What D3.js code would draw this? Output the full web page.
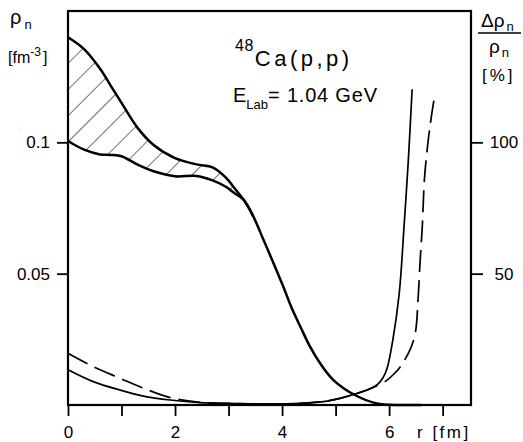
<!DOCTYPE html>
<html><head><meta charset="utf-8">
<script src="https://cdn.jsdelivr.net/npm/d3@7"></script>
<style>
body{margin:0;background:#fff}
svg{display:block}
text{font-family:"Liberation Sans",Arial,sans-serif;fill:#000}
</style>
</head><body>
<svg id="c" width="523" height="442"></svg>
<script>
// ---- data ----
const rGrid  = [0, 0.3, 0.6, 0.8, 1.0, 1.3, 1.6, 2.0, 2.4, 2.7, 2.95, 3.1, 3.28, 3.46, 3.65, 3.84, 4.02, 4.18, 4.34, 4.52, 4.71, 4.96, 5.36, 5.77, 6.2, 6.6];
const rhoMax = [0.140, 0.1355, 0.128, 0.1215, 0.115, 0.1055, 0.099, 0.094, 0.0916, 0.0905, 0.0866, 0.0828, 0.0782, 0.0719, 0.063, 0.054, 0.0452, 0.0369, 0.0299, 0.0223, 0.0159, 0.0095, 0.0038, 0.0006, 0, 0];
const rhoMin = [0.1005, 0.0972, 0.0954, 0.0952, 0.0947, 0.0915, 0.089, 0.0871, 0.0872, 0.0855, 0.0831, 0.0808, 0.0782, 0.0719, 0.063, 0.054, 0.0452, 0.0369, 0.0299, 0.0223, 0.0159, 0.0095, 0.0038, 0.0006, 0, 0];

const errSolidR = [0, 0.47, 0.97, 1.41, 1.91, 2.47, 2.97, 3.59, 4.34, 4.84, 5.08, 5.38, 5.6, 5.77, 5.88, 5.96, 6.07, 6.19, 6.28, 6.36, 6.43];
const errSolidP = [13.4, 8.9, 5.7, 3.4, 1.9, 0.9, 0.6, 0.4, 0.6, 1.5, 2.5, 4.3, 5.8, 7.6, 10.2, 13.8, 24.8, 42.7, 68.3, 93.5, 120.2];
const errDashR  = [0, 0.47, 0.97, 1.41, 1.91, 2.47, 2.97, 3.59, 4.34, 4.84, 5.08, 5.38, 5.6, 5.77, 5.93, 6.1, 6.21, 6.39, 6.49, 6.54, 6.58, 6.62, 6.66, 6.71, 6.77, 6.84];
const errDashP  = [19.7, 14.6, 10.2, 6.4, 2.8, 1.0, 0.6, 0.4, 0.6, 1.5, 2.5, 4.3, 5.8, 7.3, 9.0, 12.0, 14.6, 21, 27.5, 40, 55, 68, 86, 97, 107, 116.4];

const xTicks = [0, 1, 2, 3, 4, 5, 6, 7];
const xTickLabels = ["0", "", "2", "", "4", "", "6", ""];
const yTicks = [0.05, 0.1];
const yTickLabels = ["0.05", "0.1"];
const pTicks = [50, 100];
const pTickLabels = ["50", "100"];

// ---- scales ----
const L = 68, R = 471, T = 11, B = 405;
const x = d3.scaleLinear().domain([0, 7.53]).range([L, R]);
const y = d3.scaleLinear().domain([0, 0.15]).range([B, T]);
const yp = d3.scaleLinear().domain([0, 150]).range([B, T]);

const svg = d3.select("#c");

// hatch pattern
const defs = svg.append("defs");
const pat = defs.append("pattern").attr("id", "hatch")
  .attr("patternUnits", "userSpaceOnUse").attr("width", 18.5).attr("height", 18.5)
  .attr("patternTransform", "rotate(45)");
pat.append("line").attr("x1", 0).attr("y1", 0).attr("x2", 0).attr("y2", 18.5)
  .attr("stroke", "#000").attr("stroke-width", 1.1);

const dens = rGrid.map((r, i) => ({r, hi: rhoMax[i], lo: rhoMin[i]}));
const dCurve = d3.curveCatmullRom.alpha(0.5);

// hatched band
svg.append("path")
  .datum(dens.filter(d => d.r <= 3.28))
  .attr("d", d3.area().x(d => x(d.r)).y0(d => y(d.lo)).y1(d => y(d.hi)).curve(dCurve))
  .attr("fill", "url(#hatch)");

const dline = acc => d3.line().x(d => x(d.r)).y(d => y(acc(d))).curve(dCurve);
svg.append("path").datum(dens).attr("d", dline(d => d.hi))
  .attr("fill", "none").attr("stroke", "#000").attr("stroke-width", 2.5);
svg.append("path").datum(dens.filter(d => d.r <= 3.46)).attr("d", dline(d => d.lo))
  .attr("fill", "none").attr("stroke", "#000").attr("stroke-width", 2.5);

// error curves
const pline = d3.line().x(d => x(d[0])).y(d => yp(d[1])).curve(d3.curveCatmullRom.alpha(0.5));
svg.append("path").datum(errSolidR.map((r, i) => [r, errSolidP[i]])).attr("d", pline)
  .attr("fill", "none").attr("stroke", "#000").attr("stroke-width", 1.7);
svg.append("path").datum(errDashR.map((r, i) => [r, errDashP[i]])).attr("d", pline)
  .attr("fill", "none").attr("stroke", "#000").attr("stroke-width", 1.7)
  .attr("stroke-dasharray", "22,8");

// frame
svg.append("rect").attr("x", L).attr("y", T).attr("width", R - L).attr("height", B - T)
  .attr("fill", "none").attr("stroke", "#000").attr("stroke-width", 2.2);

// axes
function styleAxis(g) {
  g.select(".domain").remove();
  g.selectAll(".tick line").attr("stroke", "#000").attr("stroke-width", 1.8);
  g.selectAll(".tick text").attr("font-size", 17).attr("font-family", '"Liberation Sans",Arial,sans-serif').attr("fill", "#000");
}
svg.append("g").attr("transform", `translate(0,${B})`)
  .call(d3.axisBottom(x).tickValues(xTicks).tickSize(11).tickPadding(10)
    .tickFormat((d, i) => xTickLabels[i]))
  .call(styleAxis);
svg.append("g").attr("transform", `translate(${L},0)`)
  .call(d3.axisLeft(y).tickValues(yTicks).tickSize(11).tickPadding(7)
    .tickFormat((d, i) => yTickLabels[i]))
  .call(styleAxis);
const ra = svg.append("g").attr("transform", `translate(${R},0)`)
  .call(d3.axisRight(yp).tickValues(pTicks).tickSize(12).tickPadding(7)
    .tickFormat((d, i) => pTickLabels[i]))
  .call(styleAxis);
ra.selectAll(".tick text").attr("text-anchor", "middle").attr("x", 33);

// axis titles
svg.append("text").attr("x", 417).attr("y", 438).attr("font-size", 17)
  .attr("letter-spacing", 2.5).text("r [fm]");

const lt = svg.append("text").attr("x", 10).attr("y", 24).attr("font-size", 20);
lt.append("tspan").text("ρ");
lt.append("tspan").attr("font-size", 13).attr("dx", 3).attr("dy", 5).text("n");
const lu = svg.append("text").attr("x", 8).attr("y", 63).attr("font-size", 16);
lu.append("tspan").text("[fm");
lu.append("tspan").attr("font-size", 12).attr("dy", -7).text("-3");
lu.append("tspan").attr("dy", 7).attr("dx", 2).text("]");

const rt = svg.append("text").attr("x", 481).attr("y", 27).attr("font-size", 19);
rt.append("tspan").text("Δρ");
rt.append("tspan").attr("font-size", 13).attr("dx", 2).attr("dy", 4).text("n");
svg.append("line").attr("x1", 478).attr("x2", 521).attr("y1", 33).attr("y2", 33)
  .attr("stroke", "#000").attr("stroke-width", 1.5);
const rb = svg.append("text").attr("x", 489).attr("y", 53).attr("font-size", 19);
rb.append("tspan").text("ρ");
rb.append("tspan").attr("font-size", 13).attr("dx", 2).attr("dy", 4).text("n");
svg.append("text").attr("x", 482).attr("y", 81).attr("font-size", 17)
  .attr("letter-spacing", 3).text("[%]");

// title
const t1 = svg.append("text").attr("x", 235).attr("y", 66).attr("font-size", 22);
t1.append("tspan").attr("font-size", 16).attr("dy", -15).attr("letter-spacing", 0.5).text("48");
t1.append("tspan").attr("dy", 15).attr("dx", 1).attr("letter-spacing", 3.5).text("Ca(p,p)");
const t2 = svg.append("text").attr("x", 233).attr("y", 102).attr("font-size", 20);
t2.append("tspan").text("E");
t2.append("tspan").attr("font-size", 13).attr("dy", 7).text("Lab");
t2.append("tspan").attr("dy", -7).attr("letter-spacing", 0.8).text("= 1.04 GeV");
</script>
</body></html>
